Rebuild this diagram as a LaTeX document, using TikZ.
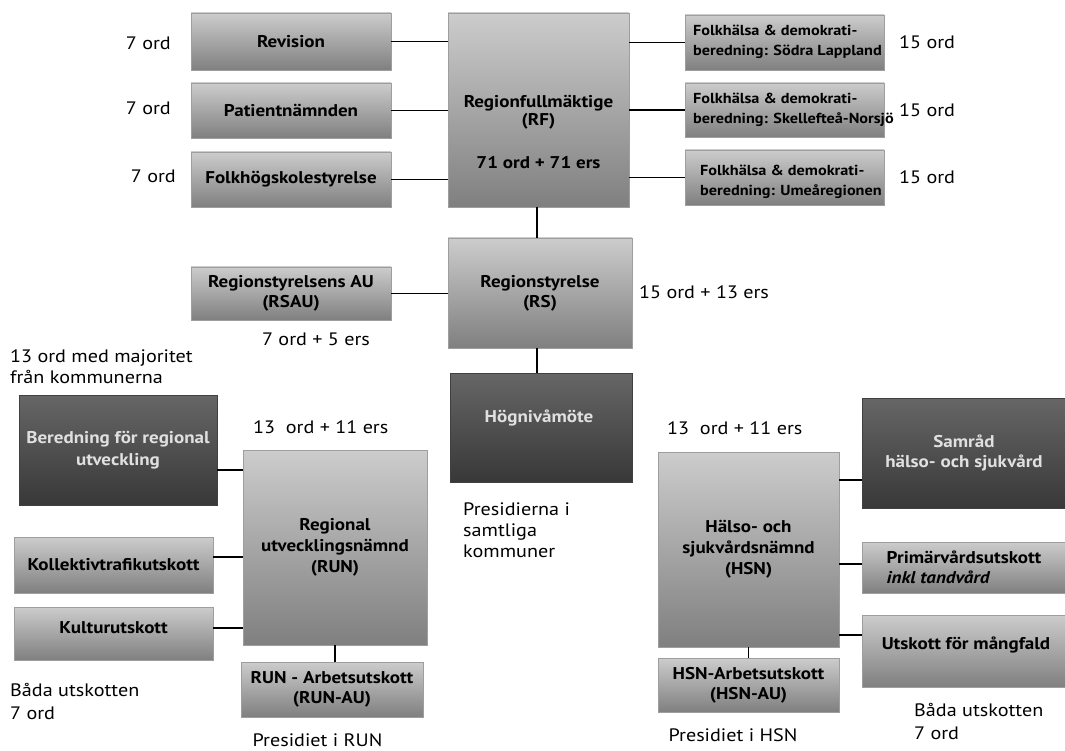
\documentclass[tikz,border=0pt]{standalone}
\usepackage{fontspec}
\setmainfont{PT Sans}[FakeStretch=1.12]
\begin{document}
\begin{tikzpicture}[x=1pt,y=-1pt,
  lbox/.style={rectangle, inner sep=0pt, top color=black!20, bottom color=black!50, draw=black!38, line width=0.5pt, font=\bfseries\fontsize{17}{20}\selectfont, align=center},
  dbox/.style={lbox, top color=black!60, bottom color=black!78, draw=black!75, text=black!12},
  btxt/.style={inner sep=0pt, font=\bfseries\fontsize{17}{18}\selectfont, align=center},
  stxt/.style={inner sep=0pt, font=\bfseries\fontsize{14.5}{20}\selectfont, align=left, anchor=west},
  lbl/.style={inner sep=0pt, font=\fontsize{18}{21}\selectfont, align=left},
  conn/.style={line width=1.6pt, black}]

\useasboundingbox (0,0) rectangle (1065,751);

% ---- top row ----
\node[lbox, minimum width=200, minimum height=57] (rev) at (291,41.5) {Revision};
\node[lbox, minimum width=200, minimum height=55] (pat) at (291,110.5) {Patientnämnden};
\node[lbox, minimum width=200, minimum height=55] (fhs) at (291,179.5) {Folkhögskolestyrelse};
\node[lbox, minimum width=181, minimum height=194] (rf) at (538.5,110) {};
\node[btxt] (rft1) at (538.5,112.5) {Regionfullmäktige\\(RF)};
\node[btxt] (rft2) at (538.5,163) {71 ord + 71 ers};

\node[lbox, minimum width=199, minimum height=55] (fh1) at (784.5,42.5) {};
\node[lbox, minimum width=199, minimum height=54] (fh2) at (784.5,110) {};
\node[lbox, minimum width=199, minimum height=55] (fh3) at (784.5,177.5) {};
\node[stxt] (fh1t) at (693,42) {Folkhälsa \& demokrati-\\beredning: Södra Lappland};
\node[stxt] (fh2t) at (693,110) {Folkhälsa \& demokrati-\\beredning: Skellefteå-Norsjö};
\node[stxt] (fh3t) at (700,182) {Folkhälsa \& demokrati-\\beredning: Umeåregionen};

\node[lbl, anchor=east] (l1) at (171,43) {7 ord};
\node[lbl, anchor=east] (l2) at (171,108) {7 ord};
\node[lbl, anchor=east] (l3) at (176,176) {7 ord};
\node[lbl, anchor=west] (r1) at (899,42) {15 ord};
\node[lbl, anchor=west] (r2) at (899,110) {15 ord};
\node[lbl, anchor=west] (r3) at (899,177) {15 ord};

% ---- middle ----
\node[lbox, minimum width=184, minimum height=110] (rs) at (540,293) {Regionstyrelse\\(RS)};
\node[lbox, minimum width=200, minimum height=53] (rsau) at (291,293.5) {Regionstyrelsens AU\\(RSAU)};
\node[lbl, anchor=west] (rsl) at (639,292) {15 ord + 13 ers};
\node[lbl] (rsaul) at (316,339) {7 ord + 5 ers};
\node[lbl, anchor=west] (maj) at (10,367) {13 ord med majoritet\\från kommunerna};

\node[dbox, minimum width=182, minimum height=109] (hog) at (541,427.5) {};
\node[btxt, text=black!12] (hogt) at (539,418) {Högnivåmöte};
\node[lbl, anchor=west] (pres) at (463,530) {Presidierna i\\samtliga\\kommuner};

% ---- RUN side ----
\node[dbox, minimum width=198, minimum height=110, font=\bfseries\fontsize{17}{22}\selectfont] (ber) at (118,450) {Beredning för regional\\utveckling};
\node[lbl, anchor=west] (runl) at (253,427) {13\ \ ord + 11 ers};
\node[lbox, minimum width=184, minimum height=195, font=\bfseries\fontsize{17}{21}\selectfont] (run) at (335,547.5) {Regional\\utvecklingsnämnd\\(RUN)};
\node[lbox, minimum width=199, minimum height=56] (kol) at (113.5,565) {Kollektivtrafikutskott};
\node[lbox, minimum width=199, minimum height=53] (kul) at (113.5,633.5) {};
\node[btxt] (kult) at (113.5,628) {Kulturutskott};
\node[lbox, minimum width=182, minimum height=55] (runau) at (332,689.5) {RUN - Arbetsutskott\\(RUN-AU)};
\node[lbl, anchor=west, font=\fontsize{18}{23}\selectfont] (bada1) at (10,701.5) {Båda utskotten\\7 ord};
\node[lbl] (presrun) at (317.5,740) {Presidiet i RUN};

% ---- HSN side ----
\node[lbl, anchor=west] (hsnl) at (667,428) {13\ \ ord + 11 ers};
\node[lbox, minimum width=181, minimum height=195, font=\bfseries\fontsize{17}{21}\selectfont] (hsn) at (748.5,549.5) {Hälso- och\\sjukvårdsnämnd\\(HSN)};
\node[lbox, minimum width=181, minimum height=54] (hsnau) at (748.5,685) {HSN-Arbetsutskott\\(HSN-AU)};
\node[dbox, minimum width=204, minimum height=110] (sam) at (964,453) {Samråd\\hälso- och sjukvård};
\node[lbox, minimum width=203, minimum height=51, align=left] (prim) at (964,567.5) {Primärvårdsutskott\\\textit{inkl tandvård}};
\node[lbox, minimum width=203, minimum height=72] (mang) at (964,651) {};
\node[btxt] (mangt) at (966,645) {Utskott för mångfald};
\node[lbl, anchor=west, font=\fontsize{18}{23}\selectfont] (bada2) at (914,721.5) {Båda utskotten\\7 ord};
\node[lbl] (preshsn) at (733,735) {Presidiet i HSN};

% ---- connectors ----
\coordinate (sp) at (537,0);
\coordinate (yber) at (0,470);
\coordinate (ykol) at (0,557);
\coordinate (ykul) at (0,628);
\coordinate (ysam) at (0,480);
\coordinate (yprim) at (0,564);
\coordinate (ymang) at (0,635);

\draw[conn] (rev.east) -- (rev.east -| rf.west);
\draw[conn] (pat.east) -- (pat.east -| rf.west);
\draw[conn] (fhs.east) -- (fhs.east -| rf.west);
\draw[conn] (rf.east |- fh1.west) -- (fh1.west);
\draw[conn] (rf.east |- fh2.west) -- (fh2.west);
\draw[conn] (rf.east |- fh3.west) -- (fh3.west);
\draw[conn] (rf.south -| sp) -- (rs.north -| sp);
\draw[conn] (rsau.east) -- (rsau.east -| rs.west);
\draw[conn] (rs.south -| sp) -- (hog.north -| sp);

\draw[conn] (ber.east |- yber) -- (run.west |- yber);
\draw[conn] (kol.east |- ykol) -- (run.west |- ykol);
\draw[conn] (kul.east |- ykul) -- (run.west |- ykul);
\draw[conn] (run.south) -- (run.south |- runau.north);

\draw[conn] (hsn.east |- ysam) -- (sam.west |- ysam);
\draw[conn] (hsn.east |- yprim) -- (prim.west |- yprim);
\draw[conn] (hsn.east |- ymang) -- (mang.west |- ymang);
\draw[conn] (hsn.south) -- (hsn.south |- hsnau.north);
\end{tikzpicture}
\end{document}
